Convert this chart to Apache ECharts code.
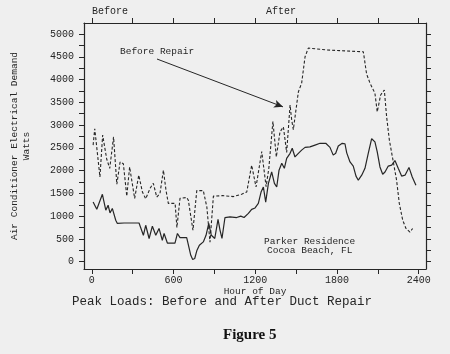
<!DOCTYPE html>
<html>
<head>
<meta charset="utf-8">
<script src="https://cdn.jsdelivr.net/npm/echarts@6/dist/echarts.min.js"></script>
<style>
  html, body { margin: 0; padding: 0; background: #efefef; }
  #chart { width: 450px; height: 354px; }
</style>
</head>
<body>
<div id="chart"></div>
<script>
// hour of day (HHMM) and watts
const afterHours = [10, 37, 78, 103, 120, 134, 151, 176, 188, 237, 347, 360, 379, 396, 421, 445, 470, 494, 518, 531, 555, 611, 629, 648, 697, 709, 727, 741, 756, 771, 790, 819, 839, 859, 878, 903, 927, 942, 956, 978, 1015, 1064, 1094, 1118, 1150, 1174, 1199, 1223, 1243, 1260, 1277, 1297, 1321, 1341, 1358, 1375, 1395, 1414, 1431, 1456, 1472, 1492, 1517, 1541, 1566, 1602, 1639, 1676, 1718, 1749, 1773, 1791, 1810, 1839, 1859, 1872, 1896, 1920, 1940, 1957, 1982, 2006, 2030, 2055, 2079, 2096, 2116, 2136, 2153, 2177, 2202, 2226, 2250, 2275, 2300, 2329, 2353, 2380];
const afterWatts = [1310, 1150, 1480, 1130, 1240, 1070, 1170, 910, 840, 850, 850, 840, 580, 800, 510, 780, 580, 730, 470, 620, 410, 410, 620, 530, 530, 490, 140, 50, 70, 240, 360, 435, 580, 840, 580, 510, 930, 690, 510, 970, 985, 970, 1000, 970, 1060, 1150, 1180, 1280, 1530, 1640, 1310, 1720, 1970, 1720, 1640, 2010, 2160, 2050, 2270, 2380, 2490, 2300, 2380, 2450, 2510, 2520, 2560, 2600, 2600, 2510, 2340, 2380, 2540, 2600, 2590, 2390, 2190, 2100, 1880, 1790, 1900, 2050, 2380, 2700, 2630, 2410, 2080, 1920, 1970, 2100, 2120, 2220, 2050, 1880, 1900, 2070, 1860, 1680];

const beforeHours = [10, 22, 60, 80, 110, 132, 160, 184, 208, 232, 257, 278, 315, 345, 372, 396, 428, 452, 477, 501, 526, 545, 562, 612, 625, 648, 697, 709, 743, 771, 819, 845, 868, 893, 960, 1040, 1100, 1138, 1174, 1206, 1248, 1280, 1300, 1330, 1355, 1382, 1407, 1431, 1456, 1468, 1480, 1517, 1541, 1566, 1590, 1725, 1994, 2018, 2043, 2079, 2096, 2121, 2148, 2165, 2185, 2214, 2238, 2258, 2283, 2307, 2336, 2356];
const beforeWatts = [2560, 2920, 1860, 2780, 2250, 2050, 2740, 1700, 2190, 2150, 1440, 2080, 1390, 1900, 1530, 1380, 1610, 1720, 1420, 1500, 2010, 1570, 1280, 1280, 750, 1390, 1410, 1350, 690, 1560, 1560, 1200, 430, 1440, 1450, 1430, 1480, 1530, 2120, 1640, 2420, 1650, 2050, 3080, 2300, 2850, 2960, 2400, 3440, 3110, 2900, 3730, 3920, 4500, 4690, 4650, 4610, 4120, 3920, 3700, 3290, 3660, 3770, 3180, 2670, 2190, 1790, 1280, 910, 730, 650, 730];

const xLabels = [0, 600, 1200, 1800, 2400];
const xTicks = [0, 300, 600, 900, 1200, 1500, 1800, 2100, 2400];
const yLabels = [0, 500, 1000, 1500, 2000, 2500, 3000, 3500, 4000, 4500, 5000];
const yTicks = [0, 250, 500, 750, 1000, 1250, 1500, 1750, 2000, 2250, 2500, 2750, 3000, 3250, 3500, 3750, 4000, 4250, 4500, 4750, 5000];

// arrow for the "Before Repair" note, [hour, watts]
const arrowFrom = [479, 4450];
const arrowTo = [1404, 3400];

const ink = '#262626';
const mono = 'Liberation Mono';

const chart = echarts.init(document.getElementById('chart'), null, { renderer: 'canvas' });

const pairs = (xs, ys) => xs.map((x, i) => [x, ys[i]]);
const plain = v => String(v);

const xBase = {
  type: 'value',
  min: -57,
  max: 2454,
  splitLine: { show: false },
  axisLine: { show: true, onZero: false, lineStyle: { color: ink, width: 1.2 } },
  axisTick: { show: true, length: 5, customValues: xTicks, lineStyle: { color: ink } }
};
const yBase = {
  type: 'value',
  min: -160,
  max: 5241,
  splitLine: { show: false },
  axisLine: { show: true, onZero: false, lineStyle: { color: ink, width: 1.2 } },
  axisTick: { show: true, length: 5, customValues: yTicks, lineStyle: { color: ink } }
};

const option = {
  backgroundColor: '#efefef',
  animation: false,
  grid: { left: 84, right: 24, top: 23, bottom: 85 },
  xAxis: [
    Object.assign({}, xBase, {
      position: 'bottom',
      name: 'Hour of Day',
      nameLocation: 'middle',
      nameGap: 17,
      nameMoveOverlap: false,
      nameTextStyle: { fontFamily: mono, fontSize: 9.5, color: ink },
      axisLabel: { customValues: xLabels, formatter: plain, margin: 6, fontFamily: mono, fontSize: 10, color: ink }
    }),
    Object.assign({}, xBase, {
      position: 'top',
      axisLabel: { show: false }
    })
  ],
  yAxis: [
    Object.assign({}, yBase, {
      position: 'left',
      name: 'Air Conditioner Electrical Demand\nWatts',
      nameLocation: 'middle',
      nameRotate: 90,
      nameGap: 52,
      nameMoveOverlap: false,
      nameTextStyle: { fontFamily: mono, fontSize: 9.5, lineHeight: 12, color: ink, align: 'center' },
      axisLabel: { customValues: yLabels, formatter: plain, margin: 10, fontFamily: mono, fontSize: 10, color: ink }
    }),
    Object.assign({}, yBase, {
      position: 'right',
      axisLabel: { show: false }
    })
  ],
  series: [
    {
      name: 'After',
      type: 'line',
      data: pairs(afterHours, afterWatts),
      showSymbol: false,
      lineStyle: { color: ink, width: 1.2 }
    },
    {
      name: 'Before',
      type: 'line',
      data: pairs(beforeHours, beforeWatts),
      showSymbol: false,
      lineStyle: { color: ink, width: 1.1, type: [3, 2] },
      markLine: {
        silent: true,
        symbol: ['none', 'arrow'],
        symbolSize: [6, 9],
        label: { show: false },
        lineStyle: { color: ink, width: 1, type: 'solid' },
        data: [[{ coord: arrowFrom }, { coord: arrowTo }]]
      }
    }
  ],
  graphic: [
    { type: 'text', left: 92, top: 6, style: { text: 'Before', font: '10px ' + mono, fill: ink } },
    { type: 'text', left: 266, top: 6, style: { text: 'After', font: '10px ' + mono, fill: ink } },
    { type: 'text', left: 120, top: 46, style: { text: 'Before Repair', font: '9.5px ' + mono, fill: ink } },
    { type: 'text', left: 264, top: 236, style: { text: 'Parker Residence', font: '9.5px ' + mono, fill: ink } },
    { type: 'text', left: 267, top: 245, style: { text: 'Cocoa Beach, FL', font: '9.5px ' + mono, fill: ink } },
    { type: 'text', left: 72, top: 295, style: { text: 'Peak Loads: Before and After Duct Repair', font: '12.5px ' + mono, fill: ink } },
    { type: 'text', left: 223, top: 328, style: { text: 'Figure 5', font: 'bold 15px "Liberation Serif"', fill: '#111' } }
  ]
};

chart.setOption(option);
</script>
</body>
</html>
